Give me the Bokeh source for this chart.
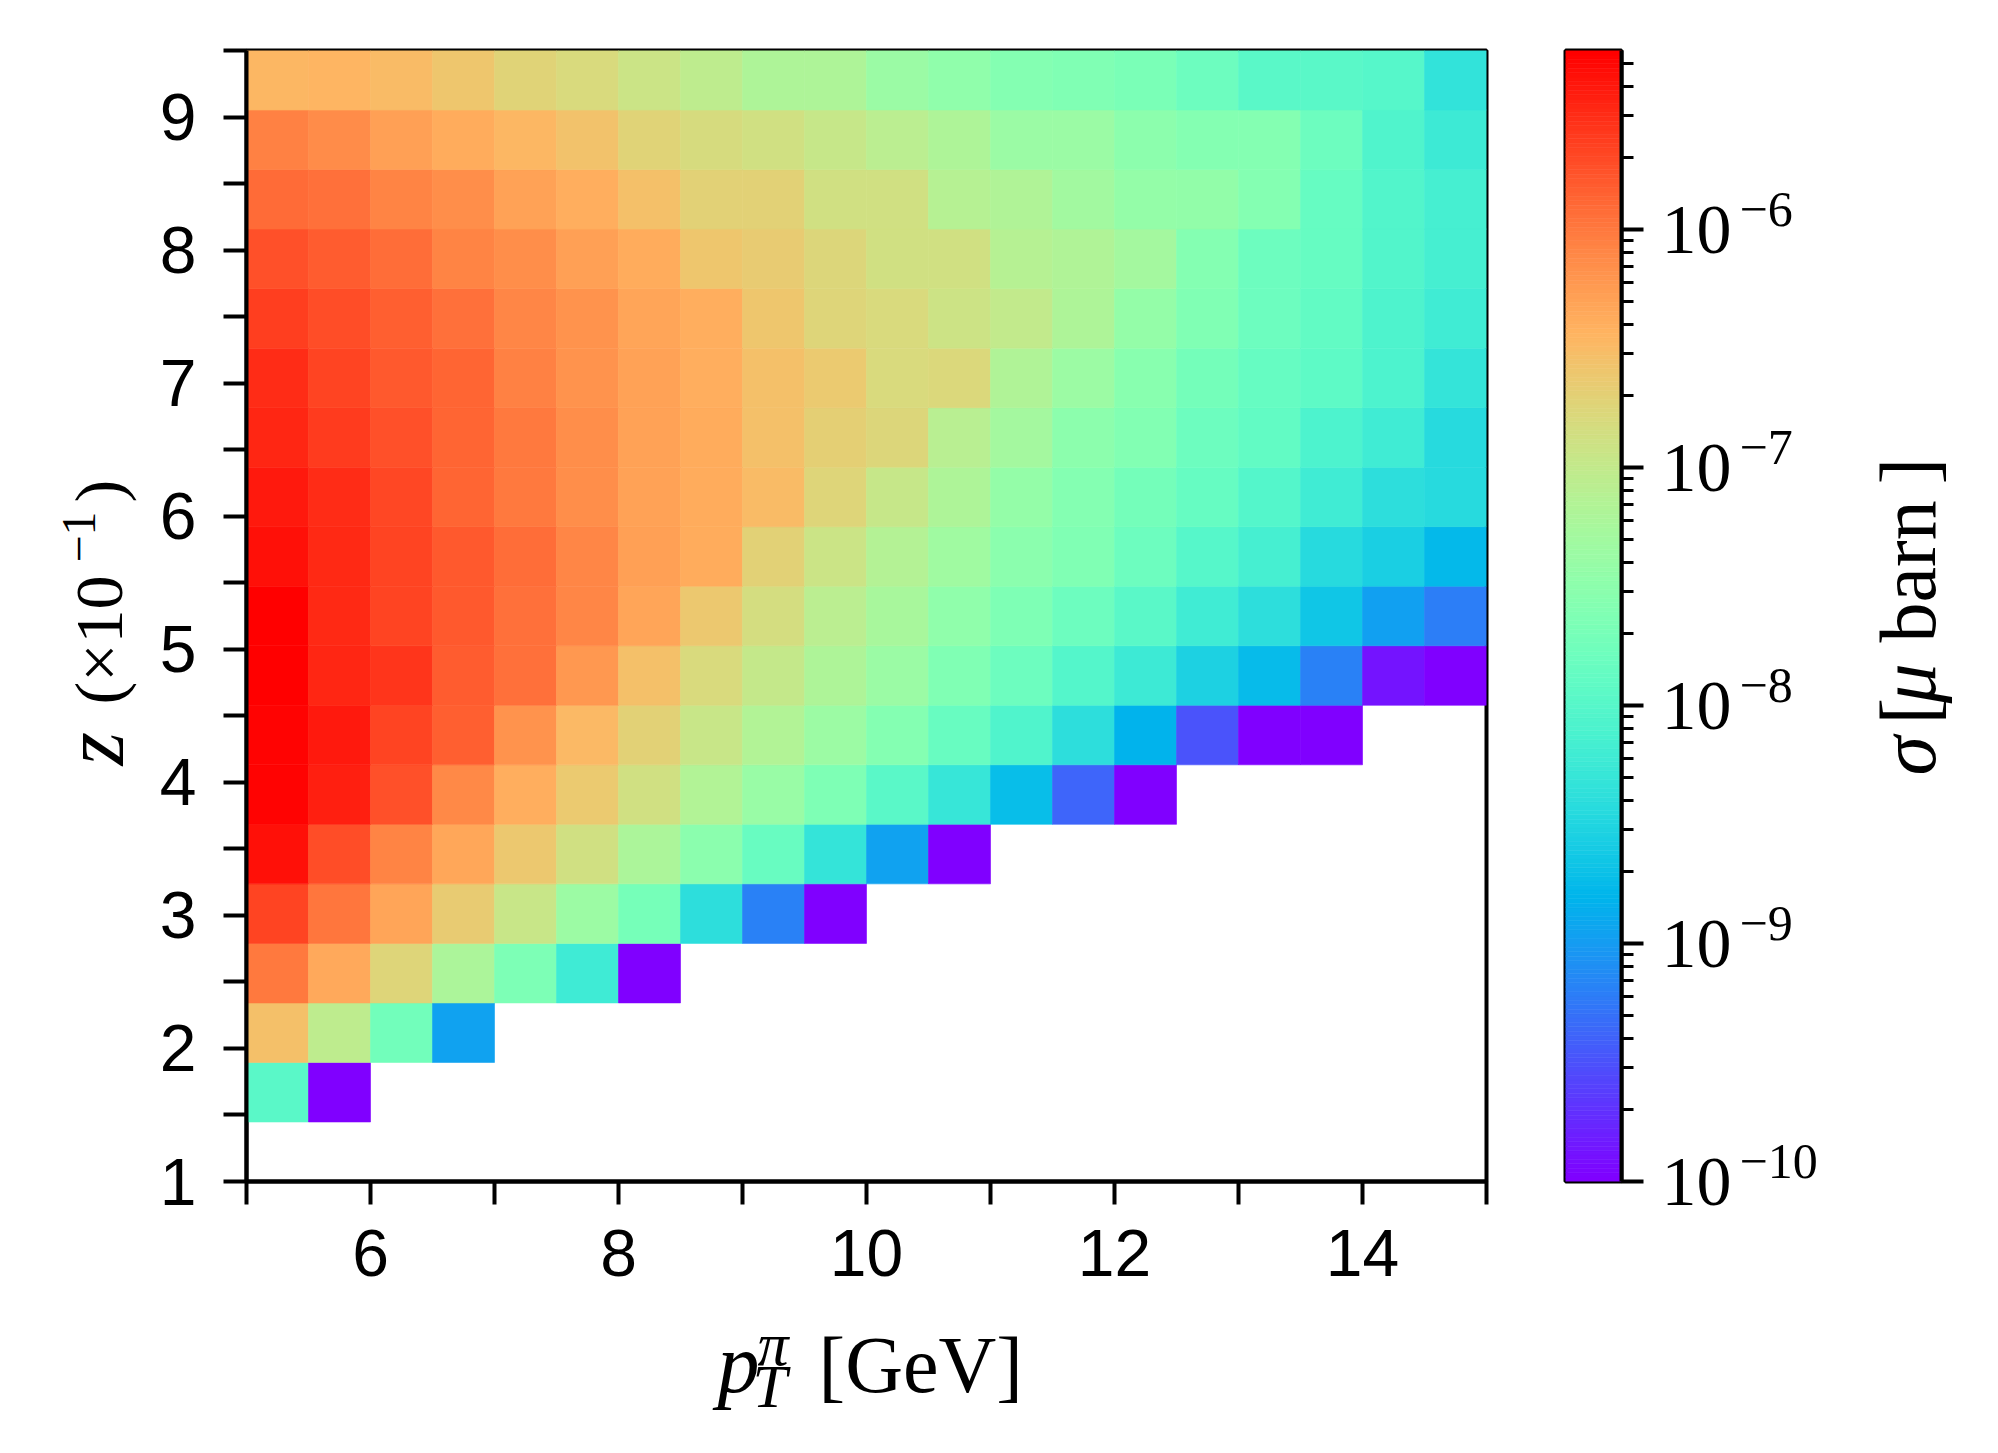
import numpy as np
from bokeh.plotting import figure
from bokeh.models import LogColorMapper, FixedTicker, Label, ColumnDataSource, Range1d
from bokeh.layouts import row, column
from bokeh.embed import file_html
from bokeh.resources import INLINE

# ---------------- data ----------------
# bins: pT (GeV) edges and z (x10^-1) edges
pt_edges = np.linspace(5.0, 15.0, 21)
z_edges = np.linspace(1.0, 9.5, 20)

N = None
# sigma [micro barn] per z-bin row (k = 0 bottom ... 18 top), 20 pT bins each
sigma_k00 = [N] * 20
sigma_k01 = [1.06e-8, 1.0e-10] + [N] * 18
sigma_k02 = [2.9e-7, 9.1e-8, 1.8e-8, 1.1e-9] + [N] * 16
sigma_k03 = [9.9e-7, 4.5e-7, 1.8e-7, 6.2e-8, 2.2e-8, 5.9e-9, 1.0e-10] + [N] * 13
sigma_k04 = [2.2e-6, 1.06e-6, 4.8e-7, 2.2e-7, 1.12e-7, 4.4e-8, 2.0e-8, 4.1e-9, 6.4e-10, 1.0e-10] + [N] * 10
sigma_k05 = [4.5e-6, 1.9e-6, 8.5e-7, 4.6e-7, 2.4e-7, 1.34e-7, 6.2e-8, 3.0e-8, 1.44e-8, 4.7e-9,
             1.1e-9, 1.0e-10] + [N] * 8
sigma_k06 = [5.3e-6, 3.6e-6, 1.8e-6, 7.7e-7, 4.1e-7, 2.3e-7, 1.34e-7, 7.0e-8, 4.0e-8, 2.3e-8,
             1.1e-8, 4.9e-9, 1.9e-9, 4.1e-10, 1.0e-10] + [N] * 5
sigma_k07 = [5.4e-6, 3.9e-6, 2.2e-6, 1.44e-6, 6.5e-7, 3.3e-7, 2.0e-7, 1.12e-7, 7.0e-8, 4.4e-8,
             2.6e-8, 1.44e-8, 8.6e-9, 4.1e-9, 1.5e-9, 3.3e-10, 1.0e-10, 1.0e-10, N, N]
sigma_k08 = [5.5e-6, 3.3e-6, 2.7e-6, 1.52e-6, 1.16e-6, 5.9e-7, 2.9e-7, 1.6e-7, 1.03e-7, 6.4e-8,
             4.2e-8, 2.4e-8, 1.57e-8, 9.4e-9, 5.6e-9, 2.9e-9, 1.8e-9, 6.4e-10, 1.34e-10, 1.0e-10]
sigma_k09 = [5.6e-6, 3.2e-6, 2.2e-6, 1.57e-6, 1.16e-6, 8.2e-7, 4.8e-7, 2.4e-7, 1.46e-7, 8.4e-8,
             5.6e-8, 3.4e-8, 2.3e-8, 1.57e-8, 1.1e-8, 6.1e-9, 4.1e-9, 2.2e-9, 1.06e-9, 6.2e-10]
sigma_k10 = [4.5e-6, 3.2e-6, 2.2e-6, 1.57e-6, 1.19e-6, 8.2e-7, 5.3e-7, 4.3e-7, 2.0e-7, 1.17e-7,
             7.3e-8, 4.8e-8, 3.0e-8, 2.4e-8, 1.57e-8, 1.01e-8, 6.9e-9, 3.6e-9, 2.7e-9, 1.7e-9]
sigma_k11 = [3.9e-6, 3.0e-6, 2.1e-6, 1.35e-6, 9.9e-7, 7.2e-7, 5.1e-7, 4.3e-7, 3.1e-7, 1.8e-7,
             1.08e-7, 6.4e-8, 3.8e-8, 2.6e-8, 1.85e-8, 1.4e-8, 9.4e-9, 6.3e-9, 4.1e-9, 3.6e-9]
sigma_k12 = [3.3e-6, 2.5e-6, 1.85e-6, 1.35e-6, 9.9e-7, 7.2e-7, 5.1e-7, 4.3e-7, 2.9e-7, 2.1e-7,
             1.7e-7, 8.0e-8, 5.2e-8, 3.2e-8, 2.5e-8, 1.57e-8, 1.26e-8, 7.9e-9, 6.1e-9, 3.6e-9]
sigma_k13 = [3.0e-6, 2.2e-6, 1.6e-6, 1.35e-6, 8.8e-7, 6.5e-7, 5.1e-7, 4.0e-7, 2.9e-7, 2.3e-7,
             1.6e-7, 1.65e-7, 6.7e-8, 4.4e-8, 2.9e-8, 1.9e-8, 1.4e-8, 1.15e-8, 7.9e-9, 4.7e-9]
sigma_k14 = [2.4e-6, 1.9e-6, 1.44e-6, 1.16e-6, 8.2e-7, 6.5e-7, 4.8e-7, 4.1e-7, 2.6e-7, 1.8e-7,
             1.6e-7, 1.23e-7, 9.9e-8, 6.4e-8, 3.7e-8, 2.4e-8, 1.57e-8, 1.26e-8, 8.2e-9, 6.1e-9]
sigma_k15 = [1.85e-6, 1.52e-6, 1.19e-6, 8.5e-7, 7.2e-7, 5.3e-7, 4.3e-7, 2.6e-7, 2.2e-7, 1.7e-7,
             1.34e-7, 1.34e-7, 7.7e-8, 6.7e-8, 5.2e-8, 2.6e-8, 1.6e-8, 1.4e-8, 8.9e-9, 6.9e-9]
sigma_k16 = [1.26e-6, 1.16e-6, 8.5e-7, 7.2e-7, 5.1e-7, 4.1e-7, 2.9e-7, 2.0e-7, 2.0e-7, 1.34e-7,
             1.34e-7, 7.7e-8, 6.7e-8, 5.0e-8, 3.8e-8, 3.5e-8, 2.6e-8, 1.4e-8, 8.9e-9, 6.9e-9]
sigma_k17 = [8.8e-7, 7.5e-7, 5.3e-7, 4.3e-7, 3.4e-7, 2.8e-7, 1.9e-7, 1.5e-7, 1.34e-7, 1.08e-7,
             8.4e-8, 6.4e-8, 4.2e-8, 4.2e-8, 3.2e-8, 2.6e-8, 2.6e-8, 1.6e-8, 8.6e-9, 5.6e-9]
sigma_k18 = [3.5e-7, 3.6e-7, 3.1e-7, 2.6e-7, 1.9e-7, 1.6e-7, 1.17e-7, 9.1e-8, 6.4e-8, 6.4e-8,
             4.2e-8, 3.4e-8, 2.7e-8, 2.4e-8, 2.1e-8, 1.6e-8, 1.06e-8, 1.06e-8, 9.8e-9, 4.5e-9]

rows = [sigma_k00, sigma_k01, sigma_k02, sigma_k03, sigma_k04, sigma_k05, sigma_k06,
        sigma_k07, sigma_k08, sigma_k09, sigma_k10, sigma_k11, sigma_k12, sigma_k13,
        sigma_k14, sigma_k15, sigma_k16, sigma_k17, sigma_k18]

# colour scale limits
sigma_low = 1.0e-10
sigma_high = 5.65e-6

# ticks
x_ticks = [5, 6, 7, 8, 9, 10, 11, 12, 13, 14, 15]
x_tick_labels = ["", "6", "", "8", "", "10", "", "12", "", "14", ""]
y_ticks = [1.0, 1.5, 2.0, 2.5, 3.0, 3.5, 4.0, 4.5, 5.0, 5.5, 6.0, 6.5, 7.0, 7.5, 8.0, 8.5, 9.0, 9.5]
y_tick_labels = ["1", "", "2", "", "3", "", "4", "", "5", "", "6", "", "7", "", "8", "", "9", ""]
cb_major = [1e-10, 1e-9, 1e-8, 1e-7, 1e-6]
cb_exponents = ["\u221210", "\u22129", "\u22128", "\u22127", "\u22126"]

# ---------------- colormap (matplotlib 'rainbow') ----------------
t = np.linspace(0.0, 1.0, 256)
_r = np.clip(np.abs(2 * t - 0.5), 0, 1)
_g = np.clip(np.sin(np.pi * t), 0, 1)
_b = np.clip(np.cos(np.pi * t / 2), 0, 1)
RAINBOW = ["#%02x%02x%02x" % (int(round(255 * a)), int(round(255 * b_)), int(round(255 * c)))
           for a, b_, c in zip(_r, _g, _b)]

mapper = LogColorMapper(palette=RAINBOW, low=sigma_low, high=sigma_high)

# ---------------- build cells ----------------
L, R, B, T, S = [], [], [], [], []
for k, vals in enumerate(rows):
    for j, v in enumerate(vals):
        if v is None:
            continue
        L.append(float(pt_edges[j])); R.append(float(pt_edges[j + 1]))
        B.append(float(z_edges[k])); T.append(float(z_edges[k + 1]))
        S.append(v)
src = ColumnDataSource(dict(left=L, right=R, bottom=B, top=T, sigma=S))

SERIF = "Liberation Serif"
SANS = "Liberation Sans"
H_TOTAL = 1445
FRAME_TOP, FRAME_H = 50, 1131
BL = 0.28  # baseline compensation (fraction of font size)


def text_fig(x0, x1, y0, y1, ylog_range=None):
    kw = dict(frame_width=x1 - x0, frame_height=y1 - y0, x_range=Range1d(x0, x1),
              x_axis_location=None, y_axis_location=None,
              min_border_left=0, min_border_right=0, min_border_top=0, min_border_bottom=0,
              output_backend="svg", toolbar_location=None)
    if ylog_range is not None:
        f = figure(y_range=ylog_range, y_axis_type="log", **kw)
    else:
        f = figure(y_range=Range1d(y1, y0), **kw)
    f.frame_align = False
    f.grid.visible = False
    f.outline_line_color = None
    f.background_fill_color = "white"
    f.border_fill_color = "white"
    return f


def lab(fig, x, y, text, size, italic=False, angle=0.0, dy=0):
    fig.add_layout(Label(x=x, y=y, y_offset=dy, text=text,
                         text_font=SERIF, text_font_size=f"{size}px",
                         text_font_style="italic" if italic else "normal",
                         text_align="left", text_baseline="alphabetic",
                         text_color="black", angle=angle))


A = float(np.pi / 2)

# ---------------- main figure ----------------
p = figure(frame_width=1240, frame_height=FRAME_H,
           x_range=Range1d(5, 15), y_range=Range1d(1, 9.5),
           min_border_left=96, min_border_right=42, min_border_top=FRAME_TOP, min_border_bottom=129,
           output_backend="svg", toolbar_location=None)
p.frame_align = False
p.background_fill_color = "white"
p.border_fill_color = "white"
p.grid.visible = False
p.outline_line_color = "black"
p.outline_line_width = 4

p.quad(left="left", right="right", bottom="bottom", top="top", source=src,
       fill_color={"field": "sigma", "transform": mapper},
       line_color={"field": "sigma", "transform": mapper}, line_width=0.6)

p.xaxis.ticker = FixedTicker(ticks=x_ticks, minor_ticks=[])
p.xaxis.major_label_overrides = {v: s for v, s in zip(x_ticks, x_tick_labels)}
p.yaxis.ticker = FixedTicker(ticks=y_ticks, minor_ticks=[])
p.yaxis.major_label_overrides = {v: s for v, s in zip(y_ticks, y_tick_labels)}
for ax in (p.xaxis[0], p.yaxis[0]):
    ax.axis_line_width = 4
    ax.axis_line_color = "black"
    ax.major_tick_out = 23
    ax.major_tick_in = 0
    ax.major_tick_line_width = 4
    ax.minor_tick_out = 0
    ax.minor_tick_in = 0
    ax.major_label_text_font = SANS
    ax.major_label_text_font_size = "66px"
    ax.major_label_text_color = "black"
p.xaxis.major_label_standoff = 25
p.yaxis.major_label_standoff = 27

# ---------------- y label (page x 0..150) ----------------
ylab = text_fig(0, 150, 0, H_TOTAL)
lab(ylab, 118 - BL * 86, 765, "z", 86, italic=True, angle=A)
lab(ylab, 118 - BL * 68, 704, "(\u00d710", 68, angle=A)
lab(ylab, 92 - BL * 48, 562, "\u22121", 48, angle=A)
lab(ylab, 118 - BL * 68, 502, ")", 68, angle=A)

# ---------------- x label (page x 150..1528, y 1310..1445) ----------------
xlab = text_fig(150, 1528, 1310, H_TOTAL)
lab(xlab, 717, 1387 - BL * 84, "p", 84, italic=True)
lab(xlab, 757, 1361 - BL * 62, "\u03c0", 62, italic=True)
lab(xlab, 752, 1403 - BL * 62, "T", 62, italic=True)
lab(xlab, 818, 1387 - BL * 80, "[GeV]", 80)

# ---------------- colour bar figure (page x 1528..1651) ----------------
cb = figure(frame_width=56, frame_height=FRAME_H,
            x_range=Range1d(0, 1), y_range=Range1d(sigma_low, sigma_high),
            y_axis_type="log", y_axis_location="right",
            min_border_left=37, min_border_right=30, min_border_top=FRAME_TOP,
            min_border_bottom=H_TOTAL - FRAME_TOP - FRAME_H,
            output_backend="svg", toolbar_location=None)
cb.frame_align = False
cb.background_fill_color = "white"
cb.border_fill_color = "white"
cb.grid.visible = False
cb.xaxis.visible = False
cb.outline_line_color = "black"
cb.outline_line_width = 4

lg = np.linspace(np.log10(sigma_low), np.log10(sigma_high), len(RAINBOW) + 1)
cb.quad(left=0, right=1, bottom=list(10 ** lg[:-1]), top=list(10 ** lg[1:]),
        fill_color=RAINBOW, line_color=RAINBOW, line_width=0.6)

cb_minor = [m * d for d in cb_major for m in range(2, 10) if m * d < sigma_high]
cax = cb.yaxis[0]
cax.ticker = FixedTicker(ticks=cb_major, minor_ticks=cb_minor)
cax.axis_line_width = 4
cax.axis_line_color = "black"
cax.major_tick_out = 22
cax.major_tick_in = 0
cax.major_tick_line_width = 4
cax.minor_tick_out = 12
cax.minor_tick_in = 0
cax.minor_tick_line_width = 3
cax.major_label_overrides = {v: " " for v in cb_major}
cax.major_label_text_font_size = "8px"
cax.major_label_standoff = 0

# ---------------- colour bar tick labels + title (page x 1651..1990) ----------------
# same log scale as the bar, extended over the whole figure height
dec_per_px = (np.log10(sigma_high) - np.log10(sigma_low)) / FRAME_H
ext_range = Range1d(float(10 ** (np.log10(sigma_low) - (H_TOTAL - FRAME_TOP - FRAME_H) * dec_per_px)),
                    float(10 ** (np.log10(sigma_high) + FRAME_TOP * dec_per_px)))
cbl = text_fig(1651, 1990, 0, H_TOTAL, ylog_range=ext_range)
for v, e in zip(cb_major, cb_exponents):
    lab(cbl, 1661, v, "10", 70, dy=-(20 - BL * 70))
    lab(cbl, 1739, v, e, 50, dy=6 + BL * 50)
bx = 1930 - BL * 80
lab(cbl, bx, sigma_low, "\u03c3", 80, italic=True, angle=A, dy=1181 - 775)
lab(cbl, bx, sigma_low, "[", 80, angle=A, dy=1181 - 724)
lab(cbl, bx, sigma_low, "\u03bc", 80, italic=True, angle=A, dy=1181 - 703)
lab(cbl, bx, sigma_low, "barn", 80, angle=A, dy=1181 - 642)
lab(cbl, bx, sigma_low, "]", 80, angle=A, dy=1181 - 484)

layout = row(ylab, column(p, xlab), cb, cbl)
open("out.html", "w").write(file_html(layout, INLINE))
